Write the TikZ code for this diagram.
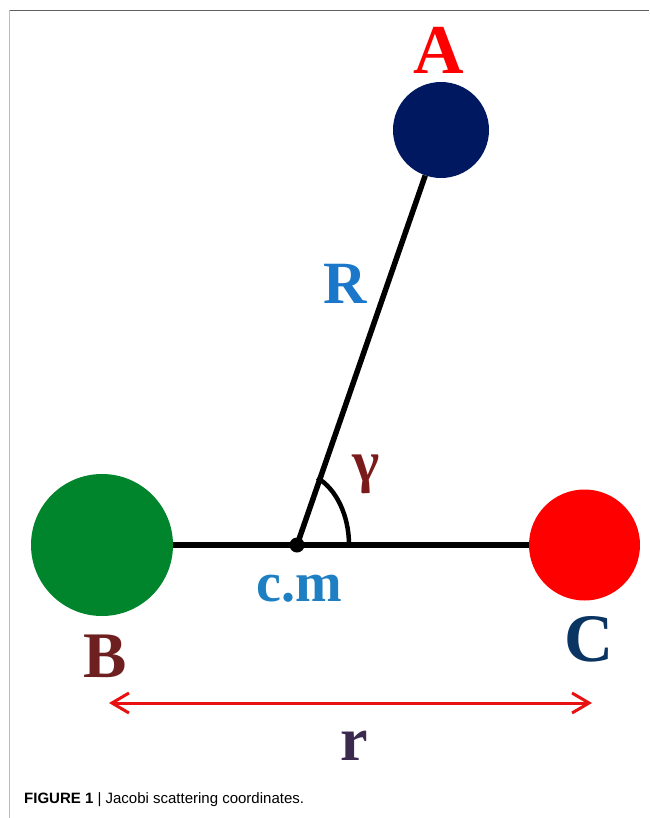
\documentclass[tikz,border=0pt]{standalone}
\usepackage{fontspec}
\setmainfont{Liberation Serif}
\newfontfamily\capfont{Liberation Sans}
\usetikzlibrary{arrows.meta}
\definecolor{navyA}{RGB}{0,24,96}
\definecolor{greenB}{RGB}{0,133,44}
\definecolor{redC}{RGB}{255,0,0}
\definecolor{labA}{RGB}{255,0,0}
\definecolor{labB}{RGB}{110,31,31}
\definecolor{labC}{RGB}{10,52,98}
\definecolor{labR}{RGB}{26,119,201}
\definecolor{labG}{RGB}{123,26,26}
\definecolor{labCM}{RGB}{30,127,194}
\definecolor{labr}{RGB}{60,42,78}
\definecolor{arrowred}{RGB}{232,16,16}
\begin{document}
\begin{tikzpicture}[x=1pt,y=-1pt,
  ball/.style={circle,draw=none,inner sep=0pt},
  bond/.style={line width=5.5pt,black},
  anglearc/.style={line width=4.5pt,black},
  lbl/.style={anchor=base,inner sep=0pt,font=\bfseries},
  dimarrow/.style={line width=3pt,arrowred,{Straight Barb[length=17pt,width=20pt,line width=3pt]}-{Straight Barb[length=17pt,width=20pt,line width=3pt]}},
  frameline/.style={line width=1.5pt}
]
\useasboundingbox (0,0) rectangle (649,818);
% frame
\coordinate (f1) at (9.5,10.5);
\coordinate (f2) at (649,10.5);
\coordinate (f3) at (9.5,818);
\draw[frameline,draw={rgb,255:red,96;green,96;blue,96}] (f1) -- (f2);
\draw[frameline,draw={rgb,255:red,187;green,187;blue,187}] (f1) -- (f3);
% atoms
\node[ball,fill=navyA,minimum size=96pt] (A) at (441,130) {};
\node[ball,fill=greenB,minimum size=142pt] (B) at (102,545) {};
\node[ball,fill=redC,minimum size=111pt] (C) at (584.5,545) {};
\coordinate (cm) at (297,545);
% bonds
\draw[bond] (B) -- (C);
\draw[bond] (cm) -- (A);
\draw[anglearc] (cm) ++(52,0) arc[start angle=0,end angle=67,x radius=52pt,y radius=73pt];
\fill (cm) circle[radius=7.5pt];
% labels
\node[lbl,text=labA,font=\bfseries\fontsize{70}{70}\selectfont] (lA) at (439,74) {A};
\node[lbl,text=labR,font=\bfseries\fontsize{60}{60}\selectfont] (lR) at (345,303) {R};
\node[anchor=center,inner sep=0pt,text=labG,font=\bfseries\fontsize{58}{58}\selectfont] (lG) at (366,474) {γ};
\node[lbl,text=labCM,font=\bfseries\fontsize{56}{56}\selectfont] (lCM) at (299,601) {c.m};
\node[lbl,text=labB,font=\bfseries\fontsize{65}{65}\selectfont] (lB) at (105.5,677) {B};
\node[lbl,text=labC,font=\bfseries\fontsize{68}{68}\selectfont] (lC) at (589.5,661) {C};
\node[lbl,text=labr,font=\bfseries\fontsize{62}{62}\selectfont] (lr) at (354,760) {r};
% dimension arrow
\coordinate (rl) at (109,703);
\coordinate (rr) at (592,703);
\draw[dimarrow] (rl) -- (rr);
% caption
\node[anchor=base west,inner sep=0pt,font=\capfont\fontsize{15}{15}\selectfont] (cap) at (24,803) {\textbf{FIGURE 1} | Jacobi scattering coordinates.};
\end{tikzpicture}
\end{document}
